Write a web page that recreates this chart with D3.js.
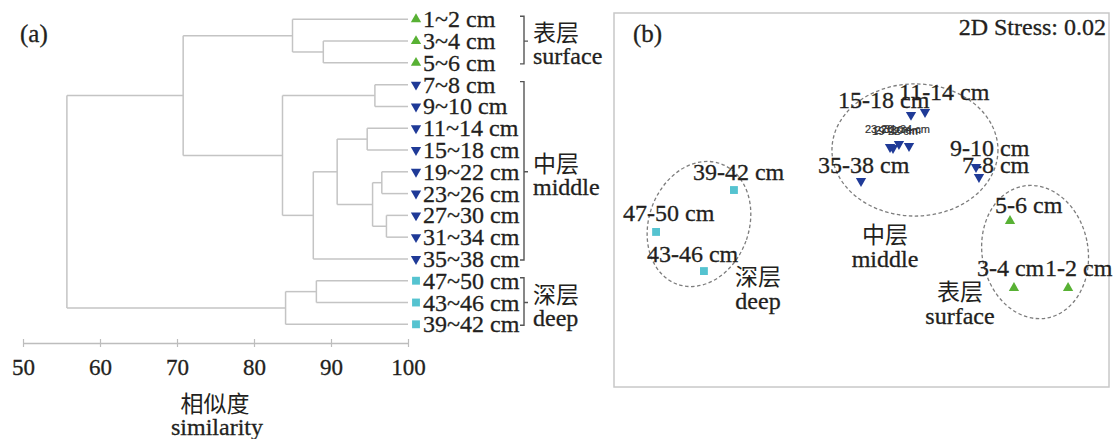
<!DOCTYPE html>
<html>
<head>
<meta charset="utf-8">
<script src="https://cdn.jsdelivr.net/npm/d3@7"></script>
</head>
<body style="margin:0;padding:0;background:#fff">
<svg id="chart" width="1115" height="439"></svg>
<script>
// ---- (a) cluster analysis ----
const leafLabels = ["1~2 cm", "3~4 cm", "5~6 cm", "7~8 cm", "9~10 cm", "11~14 cm", "15~18 cm",
  "19~22 cm", "23~26 cm", "27~30 cm", "31~34 cm", "35~38 cm", "47~50 cm", "43~46 cm", "39~42 cm"];
const leafLayer = ["surface", "surface", "surface", "middle", "middle", "middle", "middle",
  "middle", "middle", "middle", "middle", "middle", "deep", "deep", "deep"];
// merge steps: [node id, left child, right child, similarity %]
const merges = [
  ["s2", "3~4 cm", "5~6 cm", 89.0],
  ["s1", "1~2 cm", "s2", 85.0],
  ["m1", "7~8 cm", "9~10 cm", 95.7],
  ["m4", "11~14 cm", "15~18 cm", 94.7],
  ["m6", "19~22 cm", "23~26 cm", 96.6],
  ["m7", "27~30 cm", "31~34 cm", 97.2],
  ["m5", "m6", "m7", 95.4],
  ["m3", "m4", "m5", 90.8],
  ["m2", "m3", "35~38 cm", 87.7],
  ["m0", "m1", "m2", 83.7],
  ["a", "s1", "m0", 70.8],
  ["d1", "47~50 cm", "43~46 cm", 88.1],
  ["d0", "d1", "39~42 cm", 84.1],
  ["root", "a", "d0", 55.7]
];
const simTicks = [50, 60, 70, 80, 90, 100];
const groupNames = ["surface", "middle", "deep"];
const groupCn = { surface: "表层", middle: "中层", deep: "深层" };

// ---- (b) NMDS ordination ----
const nmdsLabels = ["1-2 cm", "3-4 cm", "5-6 cm", "7-8 cm", "9-10 cm", "11-14 cm", "15-18 cm",
  "19-22 cm", "23-26 cm", "27-30 cm", "31-34 cm", "35-38 cm", "39-42 cm", "43-46 cm", "47-50 cm"];
const nmdsLayer = ["surface", "surface", "surface", "middle", "middle", "middle", "middle",
  "middle", "middle", "middle", "middle", "middle", "deep", "deep", "deep"];
const nmds1 = [1.252, 0.924, 0.900, 0.712, 0.694, 0.385, 0.300, 0.173, 0.191, 0.227, 0.288, -0.003, -0.773, -0.955, -1.245];
const nmds2 = [-0.565, -0.565, -0.135, 0.148, 0.212, 0.565, 0.546, 0.340, 0.334, 0.359, 0.347, 0.122, 0.064, -0.456, -0.205];
const stress = 0.02;
// group envelopes: centre and semi-axes in ordination units, tilt in degrees
const envGroup = ["deep", "middle", "surface"];
const envCx = [-0.985, 0.324, 1.052];
const envCy = [-0.154, 0.321, -0.334];
const envRx = [0.303, 0.503, 0.321];
const envRy = [0.411, 0.424, 0.430];
const envTilt = [20, 0, -10];

// ---- styles ----
const SERIF = "'Liberation Serif', 'Times New Roman', Tinos, 'DejaVu Serif', serif";
const CJK = "'Noto Sans CJK SC', 'Noto Sans CJK JP', sans-serif";
const SANS = "'Liberation Sans', Arial, 'DejaVu Sans', sans-serif";
const ink = "#231f20";
const colors = { surface: "#58b134", middle: "#1f3a97", deep: "#55c3d0" };
const symbols = { surface: d3.symbolTriangle, middle: d3.symbolTriangle, deep: d3.symbolSquare };
const symRot = { surface: 0, middle: 180, deep: 0 };
const symSize = { surface: 46, middle: 46, deep: 62 };

const svg = d3.select("#chart");

function marker(g, layer, x, y) {
  g.append("path")
    .attr("d", d3.symbol().type(symbols[layer]).size(symSize[layer])())
    .attr("transform", `translate(${x},${y}) rotate(${symRot[layer]})`)
    .attr("fill", colors[layer]);
}

// text helper: font given as inline style so nothing overrides it
function label(g, x, y, str, opts = {}) {
  return g.append("text")
    .attr("x", x).attr("y", y)
    .attr("text-anchor", opts.anchor || "start")
    .attr("dominant-baseline", "central")
    .style("font-family", opts.family || SERIF)
    .style("font-size", (opts.size || 24) + "px")
    .style("fill", opts.fill || ink)
    .style("stroke", opts.fill || ink)
    .style("stroke-width", opts.weight == null ? 0.3 : opts.weight)
    .text(str);
}

// ================= panel (a) =================
const ga = svg.append("g");
const xSim = d3.scaleLinear().domain([50, 100]).range([23, 408]);
const yLeaf = d3.scalePoint().domain(leafLabels).range([19.3, 324.3]);

// build the tree from the merge list
const nodeMap = {};
leafLabels.forEach((l, i) => nodeMap[l] = { name: l, layer: leafLayer[i] });
merges.forEach(([id, l, r, s]) => nodeMap[id] = { name: id, sim: s, children: [nodeMap[l], nodeMap[r]] });
const root = d3.hierarchy(nodeMap["root"]);
root.eachAfter(n => {
  if (n.children) {
    n.py = d3.mean(n.children, c => c.py);
    n.px = xSim(n.data.sim);
  } else {
    n.py = yLeaf(n.data.name);
    n.px = xSim(100);
  }
});

const linkColor = "#c4c4c4";
root.each(n => {
  if (!n.children) return;
  const ys = n.children.map(c => c.py);
  ga.append("line")
    .attr("x1", n.px).attr("x2", n.px)
    .attr("y1", d3.min(ys)).attr("y2", d3.max(ys))
    .attr("stroke", linkColor).attr("stroke-width", 1.5);
  n.children.forEach(c => {
    ga.append("line")
      .attr("x1", n.px).attr("x2", c.px)
      .attr("y1", c.py).attr("y2", c.py)
      .attr("stroke", linkColor).attr("stroke-width", 1.5);
  });
});

// leaf markers and labels
root.leaves().forEach(n => {
  marker(ga, n.data.layer, 416, n.py);
  label(ga, 423, n.py, n.data.name);
});

// layer brackets
groupNames.forEach(g => {
  const ys = leafLabels.filter((l, i) => leafLayer[i] === g).map(l => yLeaf(l));
  const top = d3.min(ys) - 3, bot = d3.max(ys) + 1, mid = d3.mean(ys);
  const bx = 524;
  ga.append("path")
    .attr("d", `M${bx - 4},${top} H${bx} V${bot} H${bx - 4} M${bx},${mid} H${bx + 4}`)
    .attr("fill", "none").attr("stroke", "#555").attr("stroke-width", 1.4);
  label(ga, 533, mid - 10, groupCn[g], { family: CJK, size: 23, weight: 0 });
  label(ga, 533, mid + 15, g);
});

// similarity axis
const axA = ga.append("g")
  .attr("transform", "translate(0,343)")
  .call(d3.axisBottom(xSim).tickValues(simTicks).tickSizeOuter(0).tickSizeInner(4).tickPadding(0));
axA.select(".domain").attr("stroke", "#bdbdbd").attr("stroke-width", 1.5);
axA.selectAll(".tick line").attr("y1", -4).attr("y2", 4).attr("stroke", "#bdbdbd").attr("stroke-width", 1.2);
axA.selectAll(".tick text")
  .attr("y", 31.5).attr("dy", null)
  .style("font-family", SERIF)
  .style("font-size", "23px")
  .style("fill", ink)
  .style("stroke", ink)
  .style("stroke-width", 0.3);

label(ga, 215, 402, "相似度", { family: CJK, size: 23, anchor: "middle", weight: 0 });
label(ga, 217, 427, "similarity", { anchor: "middle" });
label(ga, 20, 33, "(a)", { size: 25 });

// ================= panel (b) =================
const gb = svg.append("g");
const bx0 = 614, bx1 = 1109, by0 = 13, by1 = 387;
gb.append("rect")
  .attr("x", bx0).attr("y", by0).attr("width", bx1 - bx0).attr("height", by1 - by0)
  .attr("fill", "none").attr("stroke", "#c8c8c8").attr("stroke-width", 1.5);

const xN = d3.scaleLinear().domain([-1.5, 1.5]).range([bx0, bx1]);
const yN = d3.scaleLinear().domain([-1.2, 1.2]).range([by1, by0]);

// group envelopes
envGroup.forEach((g, i) => {
  gb.append("ellipse")
    .attr("cx", 0).attr("cy", 0)
    .attr("rx", xN(envRx[i]) - xN(0))
    .attr("ry", yN(0) - yN(envRy[i]))
    .attr("transform", `translate(${xN(envCx[i])},${yN(envCy[i])}) rotate(${envTilt[i]})`)
    .attr("fill", "none").attr("stroke", "#7d7d7d")
    .attr("stroke-width", 1.3).attr("stroke-dasharray", "3.5,2.5");
});

// sample labels: offset of label's left edge / vertical centre from its point
const bigLabelOff = {
  "1-2 cm": [-23, -20], "3-4 cm": [-37, -20], "5-6 cm": [-15, -16],
  "7-8 cm": [-17, -12], "9-10 cm": [-26, -19], "11-14 cm": [-26, -20],
  "15-18 cm": [-73, -15], "35-38 cm": [-43, -16], "39-42 cm": [-41, -18],
  "43-46 cm": [-57, -17], "47-50 cm": [-33, -19]
};
const smallLabelOff = {
  "19-22 cm": [-18, -16], "23-26 cm": [-28, -19], "27-30 cm": [-24, -14], "31-34 cm": [-25, -17]
};

nmdsLabels.forEach((l, i) => {
  const x = xN(nmds1[i]), y = yN(nmds2[i]);
  if (bigLabelOff[l]) {
    label(gb, x + bigLabelOff[l][0], y + bigLabelOff[l][1], l);
  } else {
    label(gb, x + smallLabelOff[l][0], y + smallLabelOff[l][1], l,
      { family: SANS, size: 11, fill: "#333", weight: 0.2 });
  }
});

nmdsLabels.forEach((l, i) => marker(gb, nmdsLayer[i], xN(nmds1[i]), yN(nmds2[i])));

// layer names
const layerLabelPos = { middle: [885, 233], deep: [758, 275], surface: [960, 290] };
groupNames.forEach(g => {
  const [cx, cy] = layerLabelPos[g];
  label(gb, cx, cy, groupCn[g], { family: CJK, size: 23, anchor: "middle", weight: 0 });
  label(gb, cx, cy + 26, g, { anchor: "middle" });
});

label(gb, 633, 33, "(b)", { size: 25 });
label(gb, 1106, 27, "2D Stress: " + stress.toFixed(2), { anchor: "end" });
</script>
</body>
</html>
